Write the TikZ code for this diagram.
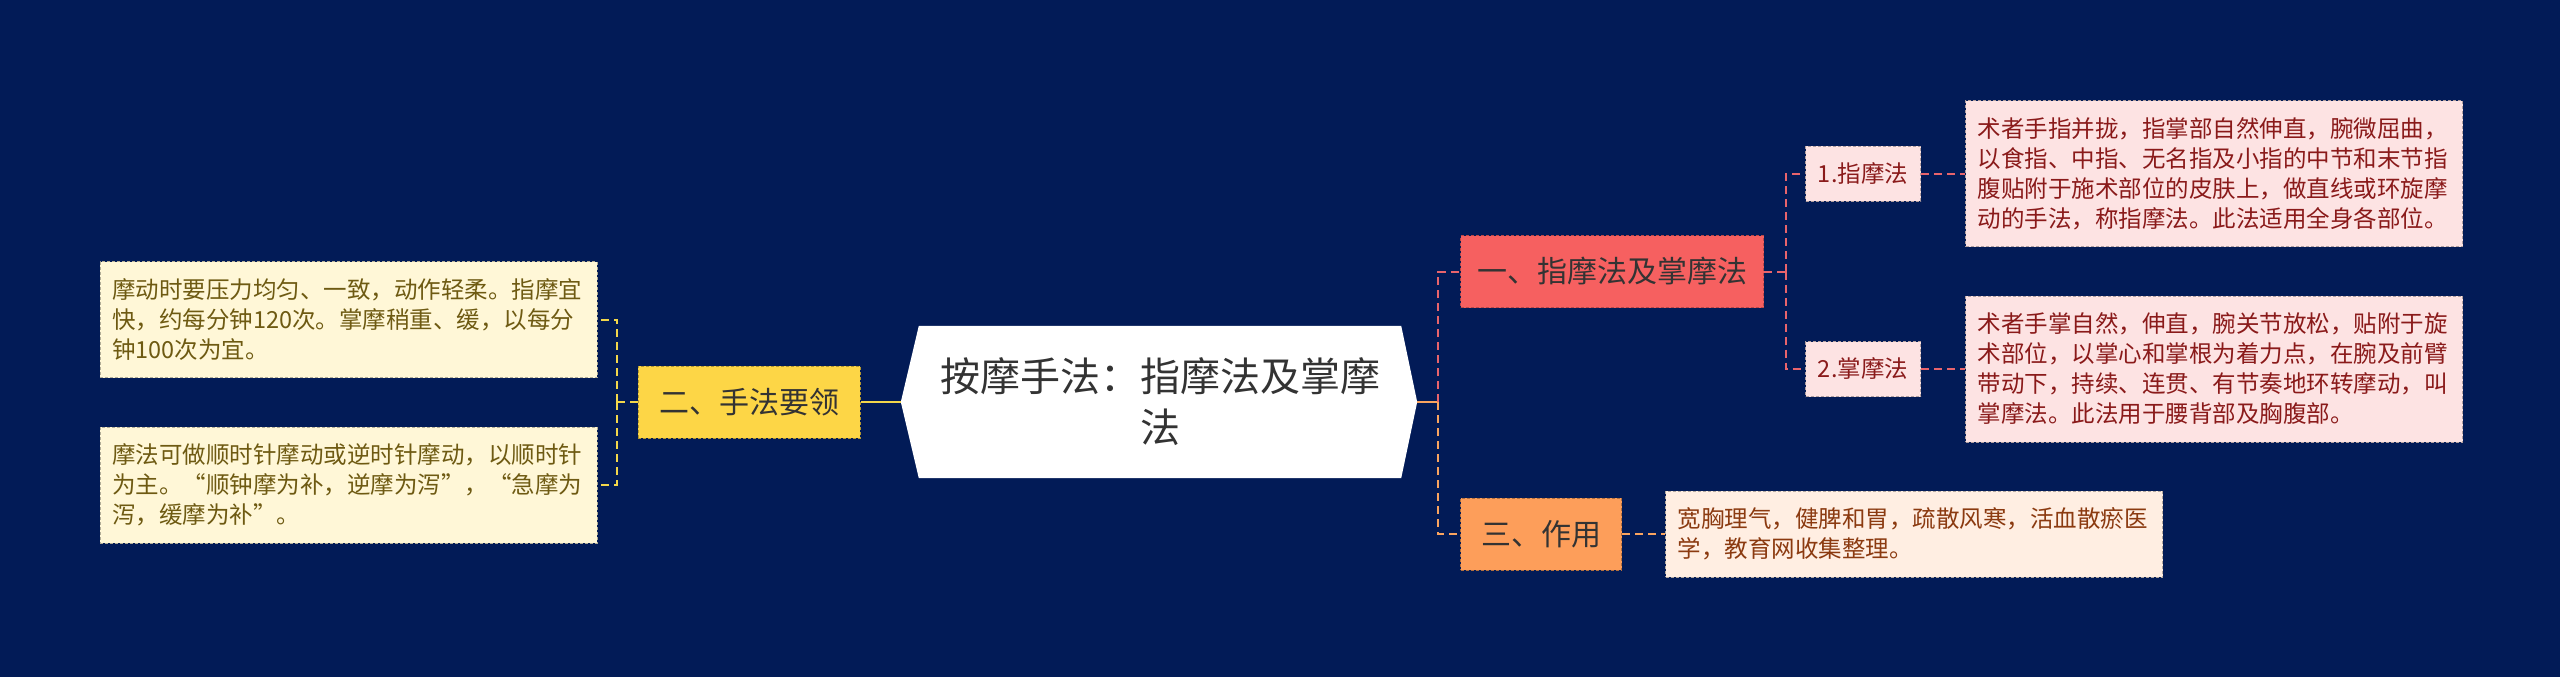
\documentclass[tikz,border=0pt]{standalone}
\usepackage{fontspec}
\setmainfont{Noto Sans CJK SC}
\usepackage{tikz}
\usetikzlibrary{positioning,calc,backgrounds}
\definecolor{clBack}{HTML}{021B57}
\definecolor{clInk}{HTML}{333333}
\definecolor{clRed}{HTML}{F66060}
\definecolor{clRedLink}{HTML}{E8646C}
\definecolor{clPink}{HTML}{FDE3E3}
\definecolor{clPinkText}{HTML}{8A1A1A}
\definecolor{clYellow}{HTML}{FDD646}
\definecolor{clYellowLink}{HTML}{F2D64B}
\definecolor{clCream}{HTML}{FFF7D7}
\definecolor{clCreamText}{HTML}{6E5A12}
\definecolor{clOrange}{HTML}{FD9E5A}
\definecolor{clOrangeLink}{HTML}{F9A460}
\definecolor{clPeach}{HTML}{FFEEE2}
\definecolor{clPeachText}{HTML}{8B3A10}
\tikzset{
  box/.style={rectangle, line width=1pt, dash pattern=on 3pt off 2pt,
              inner sep=0pt, align=center},
  rootbox/.style={rectangle, inner sep=0pt, minimum width=482pt, minimum height=152pt,
              align=center, text=clInk, font=\fontsize{40}{51}\selectfont},
  section/.style={box, minimum height=72pt, text=clInk, font=\fontsize{30}{36}\selectfont},
  secred/.style={section, fill=clRed, draw=clRed!75!black, minimum width=303pt},
  secyellow/.style={section, fill=clYellow, draw=clYellow!70!black, minimum width=222pt},
  secorange/.style={section, fill=clOrange, draw=clOrange!70!black, minimum width=161pt},
  subbox/.style={box, fill=clPink, draw=clPink!70!black, text=clPinkText,
              minimum width=115pt, minimum height=55pt, font=\fontsize{23.5}{30}\selectfont},
  leaf/.style={box, text width=473pt, inner xsep=12pt, align=left,
              font=\fontsize{23.5}{30}\selectfont},
  leafred/.style={leaf, fill=clPink, draw=clPink!70!black, text=clPinkText, minimum height=146pt},
  leafyellow/.style={leaf, fill=clCream, draw=clCream!70!black, text=clCreamText, minimum height=116pt},
  leaforange/.style={leaf, fill=clPeach, draw=clPeach!70!black, text=clPeachText, minimum height=86pt},
  link/.style={line width=2pt, dash pattern=on 8pt off 5pt},
  redlink/.style={link, draw=clRedLink},
  yellowlink/.style={link, draw=clYellowLink},
  orangelink/.style={link, draw=clOrangeLink},
  trunk/.style={line width=2pt},
}
\begin{document}
\begin{tikzpicture}[x=1pt, y=-1pt]
  \useasboundingbox (0,0) rectangle (2560,677);
  % centre
  \node[rootbox] (root) at (1160,402) {按摩手法：指摩法及掌摩\\法};
  \coordinate (rootL) at ($(root.west)+(-18,0)$);
  \coordinate (rootR) at ($(root.east)+(16,0)$);
  \begin{scope}[on background layer]
    \fill[clBack] (0,0) rectangle (2560,677);
    \fill[white] (root.north west) -- (root.north east) -- (rootR)
      -- (root.south east) -- (root.south west) -- (rootL) -- cycle;
  \end{scope}

  % left branch
  \node[secyellow, left=40pt of rootL] (sec2) {二、手法要领};
  \node[leafyellow] (lefttop) at (348.5,319.5) {摩动时要压力均匀、一致，动作轻柔。指摩宜\\快，约每分钟120次。掌摩稍重、缓，以每分\\钟100次为宜。};
  \node[leafyellow] (leftbot) at (348.5,485) {摩法可做顺时针摩动或逆时针摩动，以顺时针\\为主。“顺钟摩为补，逆摩为泻”，“急摩为\\泻，缓摩为补”。};
  \coordinate (ltrunk) at (617,402);

  % right branches
  \node[secred, anchor=west] (sec1) at (1460,271.5) {一、指摩法及掌摩法};
  \node[secorange, anchor=west] (sec3) at (1460,534) {三、作用};
  \node[subbox, anchor=west] (sub1) at (1805,173.5) {1.指摩法};
  \node[subbox, anchor=west] (sub2) at (1805,369) {2.掌摩法};
  \node[leafred, right=44pt of sub1] (txt1) {术者手指并拢，指掌部自然伸直，腕微屈曲，\\以食指、中指、无名指及小指的中节和末节指\\腹贴附于施术部位的皮肤上，做直线或环旋摩\\动的手法，称指摩法。此法适用全身各部位。};
  \node[leafred, right=44pt of sub2] (txt2) {术者手掌自然，伸直，腕关节放松，贴附于旋\\术部位，以掌心和掌根为着力点，在腕及前臂\\带动下，持续、连贯、有节奏地环转摩动，叫\\掌摩法。此法用于腰背部及胸腹部。};
  \node[leaforange, right=43pt of sec3] (txt3) {宽胸理气，健脾和胃，疏散风寒，活血散瘀医\\学，教育网收集整理。};
  \coordinate (rtrunk) at (1438,402);
  \coordinate (sectrunk) at ($(sec1.east)+(22,0)$);

  % links
  \draw[trunk, clYellowLink] (rootL) -- (sec2.east);
  \draw[yellowlink] (sec2.west) -- (ltrunk);
  \draw[yellowlink] (ltrunk) |- (lefttop.east);
  \draw[yellowlink] (ltrunk) |- (leftbot.east);
  \draw[trunk, clOrangeLink] (rootR) -- (rtrunk);
  \draw[redlink] (rtrunk) |- (sec1.west);
  \draw[orangelink] (rtrunk) |- (sec3.west);
  \draw[redlink] (sec1.east) -- (sectrunk);
  \draw[redlink] (sectrunk) |- (sub1.west);
  \draw[redlink] (sectrunk) |- (sub2.west);
  \draw[redlink] (sub1) -- (txt1);
  \draw[redlink] (sub2) -- (txt2);
  \draw[orangelink] (sec3) -- (txt3);
\end{tikzpicture}
\end{document}
